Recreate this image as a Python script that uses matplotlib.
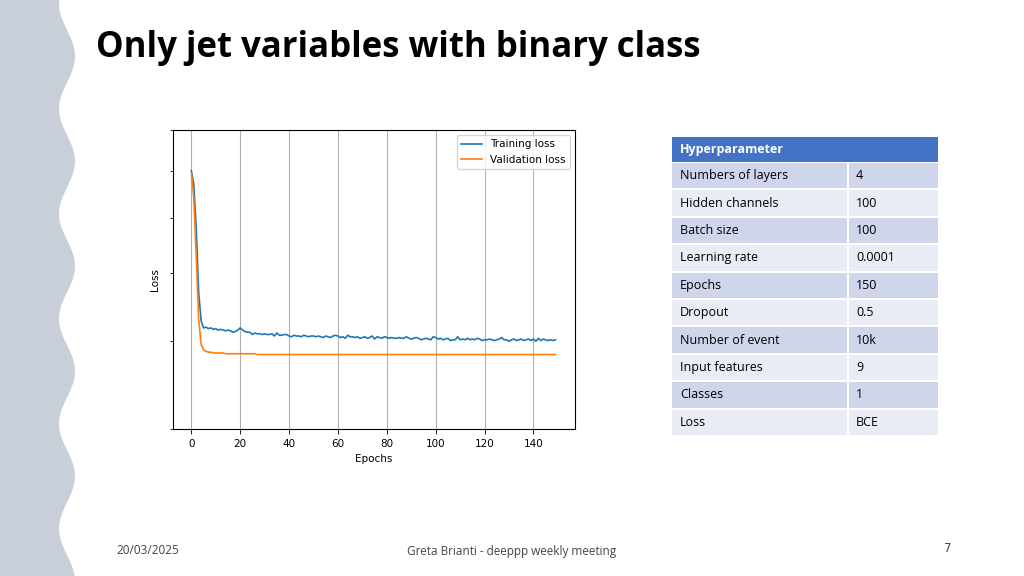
import numpy as np
import matplotlib.pyplot as plt
from matplotlib.patches import Rectangle

# loss values, one per epoch (0..149)
train_loss = [
    0.700, 0.670, 0.580, 0.470, 0.428, 0.418, 0.419, 0.417, 0.418, 0.416,
    0.417, 0.415, 0.416, 0.415, 0.414, 0.415, 0.414, 0.412, 0.413, 0.415,
    0.418, 0.415, 0.413, 0.412, 0.412, 0.409, 0.411, 0.410, 0.410, 0.409,
    0.410, 0.409, 0.409, 0.410, 0.407, 0.411, 0.408, 0.408, 0.409, 0.409,
    0.407, 0.406, 0.408, 0.407, 0.407, 0.406, 0.408, 0.407, 0.406, 0.407,
    0.407, 0.406, 0.407, 0.406, 0.405, 0.407, 0.406, 0.405, 0.407, 0.408,
    0.407, 0.405, 0.406, 0.404, 0.408, 0.406, 0.406, 0.405, 0.406, 0.404,
    0.405, 0.406, 0.404, 0.405, 0.407, 0.403, 0.406, 0.405, 0.404, 0.406,
    0.405, 0.404, 0.405, 0.404, 0.404, 0.405, 0.404, 0.404, 0.406, 0.404,
    0.403, 0.404, 0.405, 0.404, 0.402, 0.403, 0.404, 0.403, 0.402, 0.406,
    0.405, 0.403, 0.404, 0.402, 0.403, 0.404, 0.401, 0.402, 0.402, 0.406,
    0.402, 0.403, 0.402, 0.404, 0.402, 0.403, 0.402, 0.404, 0.403, 0.401,
    0.402, 0.402, 0.403, 0.402, 0.401, 0.402, 0.403, 0.405, 0.402, 0.402,
    0.400, 0.402, 0.403, 0.401, 0.402, 0.403, 0.401, 0.402, 0.403, 0.401,
    0.403, 0.400, 0.404, 0.401, 0.403, 0.402, 0.401, 0.402, 0.401, 0.402,
]
val_loss = [
    0.695, 0.640, 0.530, 0.430, 0.396, 0.389, 0.387, 0.386, 0.386, 0.385,
    0.385, 0.385, 0.385, 0.385, 0.384, 0.384, 0.384, 0.384, 0.384, 0.384,
    0.384, 0.384, 0.384, 0.384, 0.384, 0.384, 0.384, 0.383, 0.383, 0.383,
] + [0.383] * 120
epochs = np.arange(len(train_loss))

hp_names = ["Numbers of layers", "Hidden channels", "Batch size", "Learning rate",
            "Epochs", "Dropout", "Number of event", "Input features", "Classes", "Loss"]
hp_values = ["4", "100", "100", "0.0001", "150", "0.5", "10k", "9", "1", "BCE"]

W, H = 1024, 576
fig = plt.figure(figsize=(W / 100, H / 100), dpi=100)
bg = fig.add_axes([0, 0, 1, 1])
bg.set_xlim(0, W)
bg.set_ylim(H, 0)
bg.axis("off")

# wavy left band
yy = np.linspace(0, H, 400)
xx = 67 + 8 * np.sin(2 * np.pi * (yy - 30) / 105)
bg.fill_betweenx(yy, 0, xx, color="#c9cfd9", lw=0)

bg.text(96, 48, "Only jet variables with binary class", fontsize=25, fontweight="bold",
        family="Open Sans", va="center", ha="left")
bg.text(116, 551, "20/03/2025", fontsize=8.5, color="#444444", va="center", family="Open Sans")
bg.text(512, 551, "Greta Brianti - deeppp weekly meeting", fontsize=8.5, color="#444444",
        va="center", ha="center", family="Open Sans")
bg.text(948, 548, "7", fontsize=8.5, color="#444444", va="center", ha="center")

# table
x0, xs, x1 = 672, 848, 938
bg.add_patch(Rectangle((x0, 137), x1 - x0, 25, color="#4472c4", lw=0))
bg.text(x0 + 8, 150, "Hyperparameter", color="white", fontweight="bold", fontsize=9,
        va="center", family="Open Sans")
rh = 27.4
for i, (n, v) in enumerate(zip(hp_names, hp_values)):
    y = 162 + i * rh
    col = "#cfd5ea" if i % 2 == 0 else "#e9ebf5"
    bg.add_patch(Rectangle((x0, y + 1), xs - x0 - 1, rh - 2, color=col, lw=0))
    bg.add_patch(Rectangle((xs + 1, y + 1), x1 - xs - 1, rh - 2, color=col, lw=0))
    bg.text(x0 + 8, y + rh / 2, n, fontsize=9, va="center", family="Open Sans")
    bg.text(xs + 8, y + rh / 2, v, fontsize=9, va="center", family="Open Sans")

# loss chart
ax = fig.add_axes([173 / W, 1 - 429 / H, (575 - 173) / W, (429 - 130) / H])
ax.plot(epochs, train_loss, color="#1f77b4", lw=1.2, label="Training loss")
ax.plot(epochs, val_loss, color="#ff7f0e", lw=1.2, label="Validation loss")
ax.set_yscale("log")
ax.set_ylim(0.3, 0.8)
ax.set_xlim(-7.5, 157)
ax.set_xticks(range(0, 141, 20))
ax.grid(axis="x", color="#b0b0b0", lw=0.8)
ax.tick_params(labelsize=7.5, width=0.6)
ax.set_xlabel("Epochs", fontsize=7.5)
ax.set_ylabel("Loss", fontsize=7.5)
ax.yaxis.set_minor_formatter(plt.NullFormatter())
ax.legend(fontsize=7.5, loc="upper right")
for s in ax.spines.values():
    s.set_linewidth(0.8)

fig.savefig("out.png", dpi=100)
